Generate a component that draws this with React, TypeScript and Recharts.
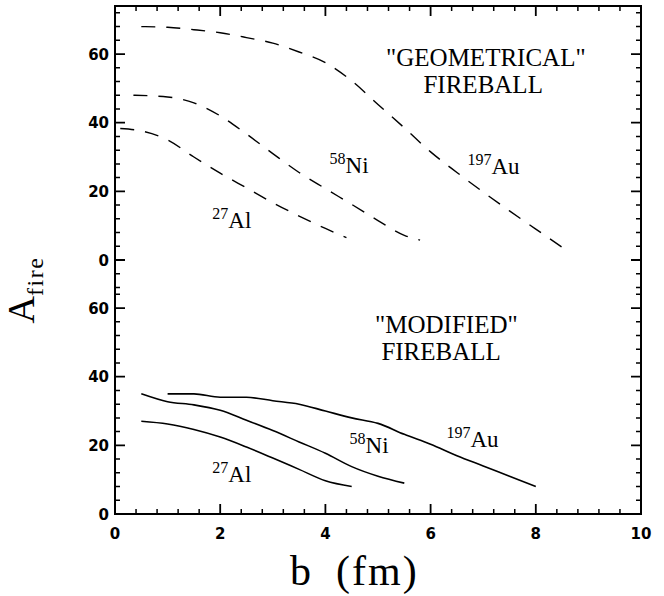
import React from 'react';
import { LineChart, Line, XAxis, YAxis, ReferenceDot, Customized } from 'recharts';

// upper panel is stacked on the lower one inside one shared y scale
const PANEL_SHIFT = 74;
const Y_MAX = 148;
const X_MAX = 10;

const X_MAJOR = [0, 2, 4, 6, 8, 10];
const X_MINOR_PER_MAJOR = 5;
const Y_MAJOR = [0, 20, 40, 60];
const Y_MINOR_STEP = 4;

// "geometrical" fireball (upper panel, dashed)
const geoAuB = [0.5, 1, 1.5, 2, 2.5, 3, 3.5, 4, 4.5, 5, 5.5, 6, 6.5, 7, 7.5, 8, 8.5];
const geoAuA = [68, 67.8, 67.1, 66.2, 64.8, 63.2, 60.6, 57.5, 52.2, 45.3, 38.5, 31.5, 25.5, 19.8, 14.3, 9, 3.7];
const geoNiB = [0.35, 1, 1.5, 2, 2.5, 3, 3.5, 4, 4.5, 5, 5.5, 5.8];
const geoNiA = [48, 47.5, 45.8, 42, 36.7, 31, 25.5, 20.8, 16.2, 11.5, 7.2, 5.8];
const geoAlB = [0.1, 0.5, 1, 1.5, 2, 2.5, 3, 3.5, 4, 4.4];
const geoAlA = [38.3, 37.6, 35, 30, 25.3, 21, 16.7, 12.8, 9.2, 6.5];

// "modified" fireball (lower panel, solid)
const modAuB = [1, 1.5, 2, 2.5, 3, 3.5, 4, 4.5, 5, 5.5, 6, 6.5, 7, 7.5, 8];
const modAuA = [35, 35, 34, 34, 33, 32, 30, 28, 26.4, 23.2, 20.3, 17, 14, 11, 8];
const modNiB = [0.5, 1, 1.5, 2, 2.5, 3, 3.5, 4, 4.5, 5, 5.5];
const modNiA = [35, 32.7, 31.8, 30.2, 27.3, 24.3, 21, 17.7, 13.8, 11, 9];
const modAlB = [0.5, 1, 1.5, 2, 2.5, 3, 3.5, 4, 4.5];
const modAlA = [27, 26.2, 24.6, 22.4, 19.5, 16.3, 13, 9.7, 8];

// isotope labels: where the text starts, in (b, A) of its panel
const isoLabels = [
  { b: 1.85, a: 9.4, upper: true, mass: '27', el: 'Al' },
  { b: 4.08, a: 25.4, upper: true, mass: '58', el: 'Ni' },
  { b: 6.7, a: 25.1, upper: true, mass: '197', el: 'Au' },
  { b: 1.85, a: 9.3, upper: false, mass: '27', el: 'Al' },
  { b: 4.46, a: 17.8, upper: false, mass: '58', el: 'Ni' },
  { b: 6.3, a: 19.5, upper: false, mass: '197', el: 'Au' },
];

// panel titles, centred on b
const titles = [
  { b: 7.05, a: 56.5, upper: true, text: '"GEOMETRICAL"' },
  { b: 7.0, a: 48.7, upper: true, text: 'FIREBALL' },
  { b: 6.3, a: 52.8, upper: false, text: '"MODIFIED"' },
  { b: 6.2, a: 44.9, upper: false, text: 'FIREBALL' },
];

const pts = (bs: number[], as: number[], shift = 0) =>
  bs.map((b, i) => ({ b, a: as[i] + shift }));

const xTicks: number[] = [];
for (let i = 0; i < X_MAJOR.length - 1; i++) {
  const step = (X_MAJOR[i + 1] - X_MAJOR[i]) / X_MINOR_PER_MAJOR;
  for (let j = 0; j < X_MINOR_PER_MAJOR; j++) xTicks.push(Math.round((X_MAJOR[i] + j * step) * 100) / 100);
}
xTicks.push(X_MAJOR[X_MAJOR.length - 1]);

// lower panel ticks 0..64, upper panel ticks from -8 up to 72
const yTicks: number[] = [];
for (let v = 0; v <= 64; v += Y_MINOR_STEP) yTicks.push(v);
for (let v = -8; v <= 72; v += Y_MINOR_STEP) yTicks.push(v + PANEL_SHIFT);

const panelValue = (v: number) => (v >= PANEL_SHIFT - 8 ? v - PANEL_SHIFT : v);
const isMajorY = (v: number) => Y_MAJOR.includes(panelValue(v));

// chart geometry (must agree with margins / axis sizes below)
const CW = 664;
const CH = 596;
const MARGIN = { top: 6, right: 23, bottom: 52, left: 0 };
const Y_AXIS_W = 115;
const X_AXIS_H = 30;
const PLOT = {
  left: MARGIN.left + Y_AXIS_W,
  right: CW - MARGIN.right,
  top: MARGIN.top,
  bottom: CH - MARGIN.bottom - X_AXIS_H,
};
const px = (b: number) => PLOT.left + (b / X_MAX) * (PLOT.right - PLOT.left);
const py = (a: number) => PLOT.bottom - (a / Y_MAX) * (PLOT.bottom - PLOT.top);

const TICK_FONT = { fontFamily: 'DejaVu Sans', fontWeight: 'bold' as const, fontSize: 15, fill: '#000' };
const SERIF = 'Liberation Serif';

function XTick(props: any) {
  const { x, y, payload } = props;
  const v = payload.value;
  if (!X_MAJOR.includes(v)) return <g />;
  return (
    <text x={x} y={Number(y) + 25} textAnchor="middle" {...TICK_FONT}>
      {v}
    </text>
  );
}

function YTick(props: any) {
  const { x, y, payload } = props;
  if (!isMajorY(payload.value)) return <g />;
  return (
    <text x={Number(x) - 6} y={Number(y) + 5.5} textAnchor="end" {...TICK_FONT}>
      {panelValue(payload.value)}
    </text>
  );
}

// box frame with inward ticks on all four sides, plus the axis titles
function FrameAndTitles() {
  const box = `M${PLOT.left},${PLOT.top}H${PLOT.right}V${PLOT.bottom}H${PLOT.left}Z`;
  let major = '';
  let minor = '';
  xTicks.forEach((v) => {
    const big = X_MAJOR.includes(v);
    const len = big ? 10 : 5;
    const x = px(v);
    const seg = `M${x},${PLOT.bottom}v${-len}M${x},${PLOT.top}v${len}`;
    if (big) major += seg;
    else minor += seg;
  });
  yTicks.forEach((v) => {
    const big = isMajorY(v);
    const len = big ? 10 : 5;
    const y = py(v);
    const seg = `M${PLOT.left},${y}h${len}M${PLOT.right},${y}h${-len}`;
    if (big) major += seg;
    else minor += seg;
  });
  return (
    <g>
      <path d={box} fill="none" stroke="#000" strokeWidth={2} />
      <path d={major} fill="none" stroke="#000" strokeWidth={1.8} />
      <path d={minor} fill="none" stroke="#000" strokeWidth={1.5} />
      <g fill="#000" fontFamily={SERIF}>
        <text x={290} y={585} fontSize={42}>b</text>
        <text x={336} y={585} fontSize={42} letterSpacing={2}>(fm)</text>
        <text x={34} y={290} transform="rotate(-90 34 290)" textAnchor="middle">
          <tspan fontSize={38}>A</tspan>
          <tspan fontSize={24} dy={9} letterSpacing={1.5}>fire</tspan>
        </text>
      </g>
    </g>
  );
}

const AX = { xAxisId: 'b', yAxisId: 'a' };
const frame = { stroke: '#000', strokeWidth: 2 };

export default function App() {
  const curves = [
    { data: pts(geoAuB, geoAuA, PANEL_SHIFT), dashed: true },
    { data: pts(geoNiB, geoNiA, PANEL_SHIFT), dashed: true },
    { data: pts(geoAlB, geoAlA, PANEL_SHIFT), dashed: true },
    { data: pts(modAuB, modAuA), dashed: false },
    { data: pts(modNiB, modNiA), dashed: false },
    { data: pts(modAlB, modAlA), dashed: false },
  ];

  return (
    <div style={{ position: 'absolute', left: 0, top: 0, background: '#fff' }}>
      <LineChart width={CW} height={CH} margin={MARGIN} data={curves[0].data}>
        <XAxis
          xAxisId="b"
          type="number"
          dataKey="b"
          domain={[0, X_MAX]}
          allowDataOverflow
          ticks={xTicks}
          interval={0}
          tickSize={0}
          tickMargin={0}
          tickLine={false}
          axisLine={frame}
          tick={<XTick />}
          height={X_AXIS_H}
        />
        <YAxis
          yAxisId="a"
          type="number"
          domain={[0, Y_MAX]}
          allowDataOverflow
          ticks={yTicks}
          interval={0}
          tickSize={0}
          tickMargin={0}
          tickLine={false}
          axisLine={frame}
          tick={<YTick />}
          width={Y_AXIS_W}
        />
        {curves.map((c, i) => (
          <Line
            key={i}
            {...AX}
            data={c.data}
            dataKey="a"
            type="monotone"
            stroke="#000"
            strokeWidth={c.dashed ? 1.4 : 1.6}
            strokeDasharray={c.dashed ? '14 11' : undefined}
            dot={false}
            activeDot={false}
            isAnimationActive={false}
          />
        ))}
        {isoLabels.map((l, i) => (
          <ReferenceDot
            key={`iso-${i}`}
            {...AX}
            x={l.b}
            y={l.a + (l.upper ? PANEL_SHIFT : 0)}
            r={0}
            fill="none"
            stroke="none"
            label={(p: any) => (
              <text x={p.viewBox.x} y={p.viewBox.y} fontFamily={SERIF} fill="#000">
                <tspan fontSize={16} dy={-9}>{l.mass}</tspan>
                <tspan fontSize={23} dy={9}>{l.el}</tspan>
              </text>
            )}
          />
        ))}
        {titles.map((t, i) => (
          <ReferenceDot
            key={`title-${i}`}
            {...AX}
            x={t.b}
            y={t.a + (t.upper ? PANEL_SHIFT : 0)}
            r={0}
            fill="none"
            stroke="none"
            label={(p: any) => (
              <text x={p.viewBox.x} y={p.viewBox.y} textAnchor="middle" fontFamily={SERIF} fontSize={25} fill="#000">
                {t.text}
              </text>
            )}
          />
        ))}
        <Customized component={FrameAndTitles} />
      </LineChart>
    </div>
  );
}
